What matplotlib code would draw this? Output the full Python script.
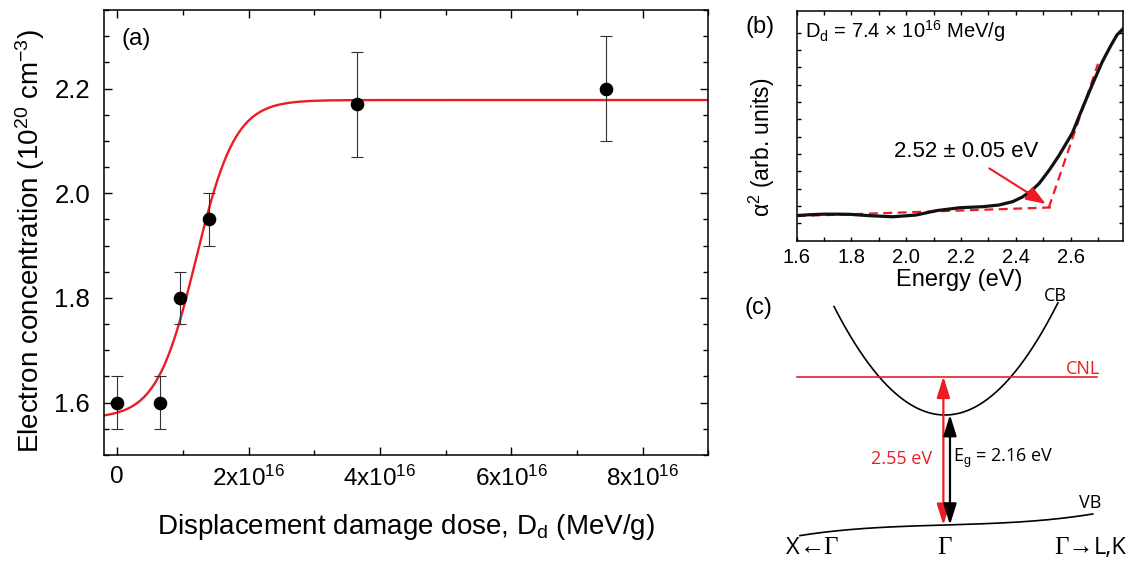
import numpy as np
import matplotlib
matplotlib.use("Agg")
import matplotlib.pyplot as plt

plt.rcParams['font.family'] = ['Liberation Sans', 'DejaVu Sans']
plt.rcParams['mathtext.fontset'] = 'custom'
plt.rcParams['mathtext.rm'] = 'Liberation Sans'
plt.rcParams['mathtext.it'] = 'Liberation Sans:italic'
plt.rcParams['mathtext.bf'] = 'Liberation Sans:bold'

RED = '#ec1c24'

## (a) electron concentration vs displacement damage dose
dose = [0, 0.65e16, 0.95e16, 1.4e16, 3.65e16, 7.45e16]
conc = [1.60, 1.60, 1.80, 1.95, 2.17, 2.20]
conc_err = [0.05, 0.05, 0.05, 0.05, 0.10, 0.10]
# Boltzmann fit parameters
fit_A1, fit_A2, fit_x0, fit_dx = 1.570, 2.178, 1.2e16, 0.30e16
a_xticks = [0, 2e16, 4e16, 6e16, 8e16]
a_xlabels = ['0', '2x10$^{16}$', '4x10$^{16}$', '6x10$^{16}$', '8x10$^{16}$']
a_yticks = [1.6, 1.8, 2.0, 2.2]

## (b) alpha^2 vs energy
energy = [1.60, 1.65, 1.70, 1.75, 1.794, 1.867, 1.951, 2.036, 2.109, 2.194,
          2.279, 2.339, 2.388, 2.424, 2.455, 2.485, 2.521, 2.557, 2.606,
          2.642, 2.679, 2.715, 2.745, 2.769, 2.79]
alpha_sq = [1.45, 1.50, 1.53, 1.53, 1.52, 1.44, 1.38, 1.48, 1.73, 1.90,
            1.96, 2.06, 2.25, 2.52, 2.85, 3.30, 4.05, 4.90, 6.20,
            7.60, 9.00, 10.30, 11.20, 11.86, 12.2]
base_E, base_a = [1.60, 2.535], [1.42, 1.92]
edge_E, edge_a = [2.52, 2.70], [1.90, 10.2]
b_xticks = [1.6, 1.8, 2.0, 2.2, 2.4, 2.6]

## (c) band schematic (arbitrary units)
cb_min, cb_curv, cb_k = 2.2, 3.96, (-0.74, 0.753)
vb_c1, vb_c3, vb_k = 0.089, 0.139, (-0.967, 0.985)
cnl_E, cnl_k = 2.97, (-0.989, 1.015)

fig = plt.figure(figsize=(11.31, 5.62), dpi=100)

# ---------- panel (a)
ax = fig.add_axes([104/1131, 1-455/562, 604.3/1131, 445/562])
xf = np.linspace(-0.2e16, 9e16, 400)
yf = fit_A2 + (fit_A1 - fit_A2) / (1 + np.exp((xf - fit_x0) / fit_dx))
ax.plot(xf, yf, color=RED, lw=1.7, zorder=2)
ax.errorbar(dose, conc, yerr=conc_err, fmt='o', color='black', ms=8.8,
            ecolor='#333333', elinewidth=0.8, capsize=4, capthick=0.8, zorder=3)
ax.set_xlim(-0.2e16, 9e16)
ax.set_ylim(1.5, 2.35)
ax.set_xticks(a_xticks)
ax.set_xticklabels(a_xlabels)
ax.set_xticks(np.arange(0, 9.01e16, 1e16), minor=True)
ax.set_yticks(a_yticks)
ax.set_yticks(np.arange(1.5, 2.351, 0.05), minor=True)
ax.tick_params(which='both', direction='in', top=True, right=True, width=1)
ax.tick_params(which='major', length=6)
ax.tick_params(which='minor', length=3.5)
ax.tick_params(axis='x', pad=8, labelsize=17.5)
ax.tick_params(axis='y', pad=10, labelsize=18.5)
for s in ax.spines.values():
    s.set_linewidth(1.1)
ax.set_xlabel('Displacement damage dose, D$_\\mathrm{d}$ (MeV/g)', fontsize=20, labelpad=15)
ax.set_ylabel('Electron concentration (10$^{20}$ cm$^{-3}$)', fontsize=20)
ax.yaxis.set_label_coords(-0.095, 0.481)
ax.text(0.053, 0.935, '(a)', transform=ax.transAxes, fontsize=17.5, ha='center', va='center')

# ---------- panel (b)
bx = fig.add_axes([796.7/1131, 1-240.7/562, 326/1131, 230/562])
bx.plot(base_E, base_a, color=RED, lw=1.6, ls=(0, (4, 2.5)), zorder=2)
bx.plot(edge_E, edge_a, color=RED, lw=1.6, ls=(0, (4, 2.5)), zorder=2)
bx.plot(energy, alpha_sq, color='#111111', lw=2.3, zorder=3)
bx.set_xlim(1.6, 2.79)
bx.set_ylim(0, 13.26)
bx.set_xticks(b_xticks)
bx.set_xticks(np.arange(1.6, 2.79, 0.1), minor=True)
bx.set_yticks(np.arange(1, 13))
bx.set_yticklabels([])
bx.tick_params(which='both', direction='in', top=True, right=True, width=1, length=3, labelsize=14.5)
bx.tick_params(axis='x', pad=5)
for s in bx.spines.values():
    s.set_linewidth(1.1)
bx.set_xlabel('Energy (eV)', fontsize=17, labelpad=2)
bx.set_ylabel('\u03b1$^{2}$ (arb. units)', fontsize=16.5)
bx.yaxis.set_label_coords(-0.06, 0.407)
bx.annotate('', xy=(2.509, 2.12), xytext=(2.303, 4.17),
            arrowprops=dict(arrowstyle='-|>,head_length=0.8,head_width=0.3',
                            color=RED, lw=1.5, mutation_scale=15, shrinkA=0, shrinkB=0))
bx.text(2.218, 5.13, '2.52 \u00b1 0.05 eV', fontsize=16, ha='center', va='center')
bx.text(0.025, 0.912, 'D$_\\mathrm{d}$ = 7.4 $\\times$ 10$^{16}$ MeV/g', transform=bx.transAxes,
        fontsize=14.5, ha='left', va='center')
fig.text(760/1131, 1-27/562, '(b)', fontsize=17, ha='center', va='center')

# ---------- panel (c)
cx = fig.add_axes([740/1131, 0, 391/1131, 272/562])
cx.axis('off')
cx.set_xlim(-1.367, 1.24)
cx.set_ylim(-0.74, 4.7)
k = np.linspace(cb_k[0], cb_k[1], 200)
cx.plot(k, cb_min + cb_curv * k**2, color='black', lw=1.2)
k = np.linspace(vb_k[0], vb_k[1], 200)
cx.plot(k, vb_c1 * k + vb_c3 * k**3, color='black', lw=1.2)
cx.plot(cnl_k, [cnl_E, cnl_E], color=RED, lw=1.2)
kr, kb = -0.011, 0.033
cx.annotate('', xy=(kr, cnl_E), xytext=(kr, vb_c1 * kr + vb_c3 * kr**3),
            arrowprops=dict(arrowstyle='<|-|>,head_length=0.8,head_width=0.25', color=RED,
                            lw=1.6, mutation_scale=16, shrinkA=0, shrinkB=0))
cx.annotate('', xy=(kb, cb_min + cb_curv * kb**2), xytext=(kb, vb_c1 * kb + vb_c3 * kb**3),
            arrowprops=dict(arrowstyle='<|-|>,head_length=0.8,head_width=0.25', color='black',
                            lw=1.6, mutation_scale=16, shrinkA=0, shrinkB=0))
sans = ['Open Sans', 'DejaVu Sans']
serif = ['Liberation Serif', 'DejaVu Serif']
cx.text(-1.247, 4.35, '(c)', fontsize=17, ha='center', va='center')
cx.text(0.733, 4.58, 'CB', fontsize=13, ha='center', va='center', family=sans)
cx.text(0.92, 3.12, 'CNL', fontsize=13, ha='center', va='center', family=sans, color=RED)
cx.text(0.967, 0.44, 'VB', fontsize=13, ha='center', va='center', family=sans)
cx.text(-0.289, 1.33, '2.55 eV', fontsize=13, ha='center', va='center', family=sans, color=RED)
cx.text(0.053, 1.33, 'E$_\\mathrm{g}$ = 2.16 eV', fontsize=13, ha='left', va='center', family=sans)
cx.text(-0.967, -0.46, 'X', fontsize=17, ha='right', va='center', family=sans)
cx.text(-0.967, -0.46, '\u2190\u0393', fontsize=18, ha='left', va='center', family=serif)
cx.text(-0.007, -0.46, '\u0393', fontsize=18, ha='center', va='center', family=serif)
cx.text(0.989, -0.46, '\u0393\u2192', fontsize=18, ha='right', va='center', family=serif)
cx.text(0.989, -0.46, 'L,K', fontsize=17, ha='left', va='center', family=sans)

fig.savefig('out.png', dpi=100)
